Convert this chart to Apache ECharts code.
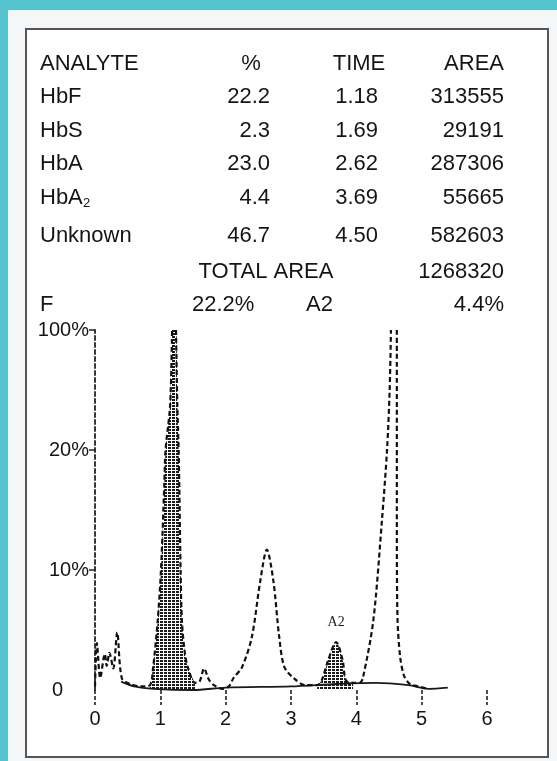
<!DOCTYPE html>
<html><head><meta charset="utf-8">
<script src="https://cdn.jsdelivr.net/npm/echarts@6/dist/echarts.min.js"></script>
<style>html,body{margin:0;padding:0;background:#f5f6f8}#c{width:557px;height:761px}</style>
</head><body><div id="c"></div><script>
// time (min), percent
var injection = [[0.0,0.3],[0.03,3.9],[0.08,1.0],[0.15,3.0],[0.18,2.0],[0.22,3.1],[0.28,1.8],[0.34,4.8],[0.41,1.0],[0.54,0.5],[0.7,0.3]]
var hbfPeak = [[0.84,0.4],[0.89,1.9],[0.96,5.8],[1.01,10],[1.06,17],[1.08,20],[1.15,50],[1.18,100],[1.21,'-'],[1.24,100],[1.26,50],[1.28,20],[1.29,17],[1.31,10],[1.33,5.8],[1.37,3.3],[1.42,1.9],[1.53,0.6]]
var hbsPeak = [[1.6,0.7],[1.67,1.8],[1.74,0.9],[1.82,0.4],[1.95,0.1]]
var hbaPeak = [[2.05,0.3],[2.12,1.0],[2.25,1.9],[2.40,4.4],[2.53,9.1],[2.63,11.7],[2.73,9.1],[2.82,4.4],[2.90,1.9],[3.06,0.9],[3.22,0.4]]
var a2Peak = [[3.40,0.4],[3.47,0.8],[3.57,2.5],[3.69,4.0],[3.79,2.5],[3.84,0.8],[3.95,0.6]]
var unknownPeak = [[4.05,0.6],[4.1,1.0],[4.26,5.8],[4.39,14],[4.47,20],[4.51,60],[4.53,100],[4.575,'-'],[4.62,100],[4.62,14],[4.63,6],[4.67,2.8],[4.73,1.2],[4.82,0.5],[4.95,0.3],[5.1,0.1]]
var baseline = [[0.40,0.7],[0.6,0.3],[0.9,0.1],[1.5,0.0],[2.0,0.2],[3.0,0.3],[3.7,0.5],[4.3,0.6],[4.8,0.4],[5.1,0.1],[5.4,0.2]]

var yTickLabels = {0: '0', 10: '10%', 20: '20%', 30: '100%'}

var tableHead = ['ANALYTE', '%', 'TIME', 'AREA']
var analytes = ['HbF', 'HbS', 'HbA', 'HbA', 'Unknown']
var percents = ['22.2', '2.3', '23.0', '4.4', '46.7']
var times = ['1.18', '1.69', '2.62', '3.69', '4.50']
var areas = ['313555', '29191', '287306', '55665', '582603']
var totalArea = '1268320'

// broken y scale: 0-20% linear, 20-100% squeezed into one step
function toDisplay (v) {
  if (v === '-') return '-'
  return v <= 20 ? v : 20 + (v - 20) / 8
}
function mapData (arr) {
  return arr.map(function (p) { return [p[0], toDisplay(p[1])] })
}
function noGap (arr) {
  return mapData(arr.filter(function (p) { return p[1] !== '-' }))
}

var trace = [].concat(injection, hbfPeak, hbsPeak, hbaPeak, a2Peak, unknownPeak)

// hatch pattern for filled peaks
var pat = document.createElement('canvas')
pat.width = 4; pat.height = 3
var pc = pat.getContext('2d')
pc.fillStyle = '#1a1a1a'
pc.fillRect(0, 0, 3, 2)

var font = '"Liberation Sans", Arial, sans-serif'
var rowY = [97, 131, 164, 198, 236]
var texts = []
function t (str, x, y, align, size, fam) {
  texts.push({type: 'text', z: 10, style: {text: str, x: x, y: y, textAlign: align || 'left', textVerticalAlign: 'middle',
    font: (size || 22) + 'px ' + (fam || font), fill: '#151515'}})
}
t(tableHead[0], 40, 64)
t(tableHead[1], 251, 64, 'center')
t(tableHead[2], 359, 64, 'center')
t(tableHead[3], 504, 64, 'right')
for (var i = 0; i < analytes.length; i++) {
  t(analytes[i], 40, rowY[i])
  t(percents[i], 270, rowY[i], 'right')
  t(times[i], 378, rowY[i], 'right')
  t(areas[i], 504, rowY[i], 'right')
}
t('2', 83, 203, 'left', 13)
t('TOTAL AREA', 266, 272, 'center')
t(totalArea, 504, 272, 'right')
t('F', 40, 305)
t(percents[0] + '%', 192, 305)
t('A2', 306, 305)
t(percents[3] + '%', 504, 305, 'right')

var chart = echarts.init(document.getElementById('c'))
chart.setOption({
  backgroundColor: '#f5f6f8',
  animation: false,
  graphic: {elements: [
    {type: 'rect', z: -10, shape: {x: 0, y: 0, width: 557, height: 10}, style: {fill: '#55c4cf'}},
    {type: 'rect', z: -10, shape: {x: 0, y: 0, width: 8, height: 761}, style: {fill: '#55c4cf'}},
    {type: 'rect', z: -9, shape: {x: 26, y: 29, width: 522, height: 728}, style: {fill: '#fff', stroke: '#555', lineWidth: 2}}
  ].concat(texts)},
  grid: {left: 95, right: 70, top: 330, bottom: 71},
  xAxis: {
    type: 'value', min: 0, max: 6, interval: 1, offset: 5,
    splitLine: {show: false},
    axisLine: {show: false},
    axisTick: {show: true, length: 15, lineStyle: {color: '#222', width: 1.6, type: [4, 2]}},
    axisLabel: {margin: 14, fontSize: 20, fontFamily: font, color: '#151515'}
  },
  yAxis: {
    type: 'value', min: 0, max: 30, interval: 10,
    splitLine: {show: false},
    axisLine: {show: true, lineStyle: {color: '#222', width: 1.8, type: [4, 3]}},
    axisTick: {show: true, length: 6, customValues: [10, 20, 30], lineStyle: {color: '#222', width: 1.5}},
    axisLabel: {margin: 6, fontSize: 20, fontFamily: font, color: '#151515',
      formatter: function (v) { return v === 0 ? '{z|0}' : yTickLabels[v] },
      rich: {z: {fontSize: 20, fontFamily: font, color: '#151515', padding: [0, 26, 0, 0]}}}
  },
  series: [
    {type: 'line', data: noGap(hbfPeak), smooth: 0.3, symbol: 'none', lineStyle: {width: 0},
      areaStyle: {color: {image: pat, repeat: 'repeat'}, opacity: 1}, z: 1},
    {type: 'line', data: noGap(a2Peak), smooth: 0.3, symbol: 'none', lineStyle: {width: 0},
      areaStyle: {color: {image: pat, repeat: 'repeat'}, opacity: 1}, z: 1},
    {type: 'line', data: mapData(baseline), smooth: 0.3, symbol: 'none',
      lineStyle: {color: '#1a1a1a', width: 1.8}},
    {type: 'line', data: mapData(trace), smooth: 0.3, symbol: 'none', connectNulls: false,
      lineStyle: {color: '#111', width: 2.2, type: [5, 3]},
      markPoint: {symbol: 'circle', symbolSize: 0, data: [{coord: [3.69, toDisplay(4.0)]}],
        label: {show: true, formatter: 'A2', offset: [0, -20], fontFamily: '"Liberation Serif", serif', fontSize: 14, color: '#222'}}}
  ]
})
</script></body></html>
